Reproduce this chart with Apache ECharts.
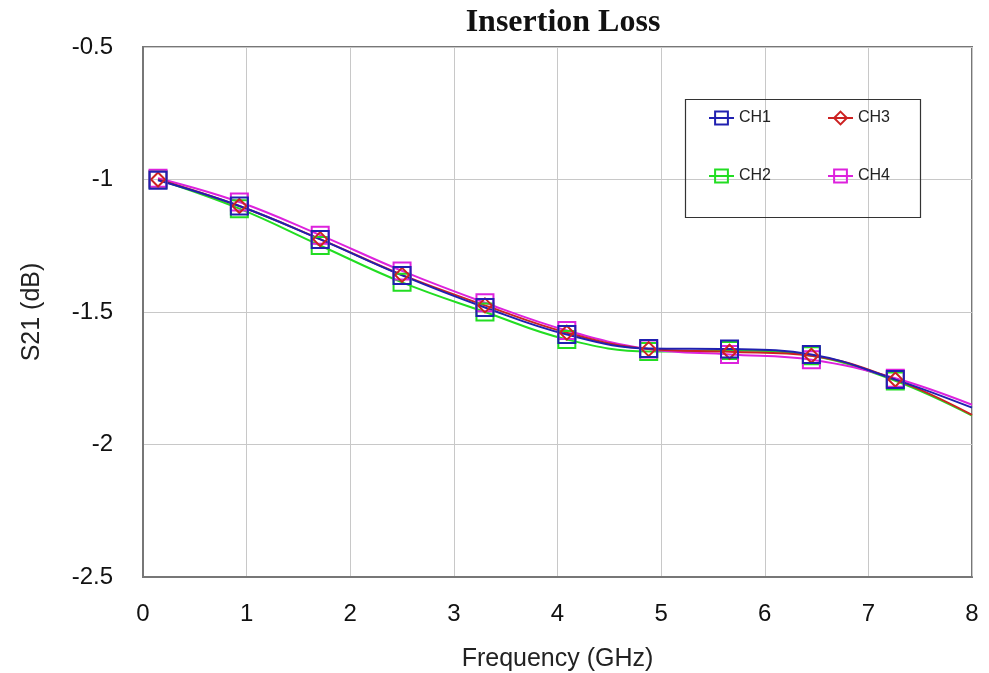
<!DOCTYPE html>
<html>
<head>
<meta charset="utf-8">
<script src="https://cdn.jsdelivr.net/npm/echarts@6/dist/echarts.min.js"></script>
<style>html,body{margin:0;padding:0;background:#fff}#c{width:989px;height:673px}</style>
</head>
<body>
<div id="c"></div>
<script>
var freqs = [0.145, 0.93, 1.71, 2.50, 3.30, 4.09, 4.88, 5.66, 6.45, 7.26, 8.0];
var ch1 = [-1.003, -1.100, -1.226, -1.362, -1.483, -1.585, -1.638, -1.640, -1.660, -1.755, -1.861];
var ch2 = [-1.000, -1.110, -1.249, -1.388, -1.500, -1.604, -1.649, -1.645, -1.665, -1.760, -1.891];
var ch3 = [-1.000, -1.100, -1.225, -1.360, -1.475, -1.578, -1.640, -1.650, -1.665, -1.755, -1.888];
var ch4 = [-0.995, -1.085, -1.210, -1.345, -1.465, -1.570, -1.640, -1.660, -1.680, -1.750, -1.850];
var xTicks = [0, 1, 2, 3, 4, 5, 6, 7, 8];
var yTicks = [-2.5, -2, -1.5, -1, -0.5];

function mk(vals) {
  return freqs.map(function (f, i) {
    var p = { value: [f, vals[i]] };
    if (i === freqs.length - 1) p.symbol = 'none';
    return p;
  });
}
function ser(name, vals, color, symbol, size) {
  return {
    name: name, type: 'line', smooth: 0.4, data: mk(vals),
    symbol: symbol, symbolSize: size, showAllSymbol: true,
    itemStyle: { color: 'rgba(255,255,255,0)', borderColor: color, borderWidth: 2 },
    lineStyle: { color: color, width: 2 },
    emphasis: { disabled: true }
  };
}
var chart = echarts.init(document.getElementById('c'));
var legendText = { fontFamily: 'Liberation Sans', fontSize: 16, color: '#222' };
chart.setOption({
  animation: false,
  title: {
    text: 'Insertion Loss', left: 558, top: 2, textAlign: 'center',
    textStyle: { fontFamily: 'Liberation Serif', fontWeight: 'bold', fontSize: 32, color: '#111' }
  },
  legend: [
    { data: ['CH1', 'CH3'], left: 703, top: 105, itemGap: 56, itemWidth: 25, itemHeight: 16, textStyle: legendText },
    { data: ['CH2', 'CH4'], left: 703, top: 163, itemGap: 56, itemWidth: 25, itemHeight: 16, textStyle: legendText }
  ],
  graphic: [{
    type: 'rect', left: 683, top: 97, z: 100, silent: true,
    shape: { width: 235, height: 118 },
    style: { fill: 'none', stroke: '#333', lineWidth: 1.2 }
  }],
  grid: { left: 143, right: 17, top: 47, bottom: 96, show: true, borderColor: '#777', borderWidth: 2, outerBoundsMode: 'none', containLabel: false },
  xAxis: {
    type: 'value', min: xTicks[0], max: xTicks[xTicks.length - 1], interval: 1,
    name: 'Frequency (GHz)', nameLocation: 'middle', nameGap: 70,
    nameTextStyle: { fontFamily: 'Liberation Sans', fontSize: 25, color: '#222' },
    axisLine: { show: true, lineStyle: { color: '#777', width: 2 } },
    axisTick: { show: false },
    axisLabel: { fontFamily: 'Liberation Sans', fontSize: 24, color: '#111', margin: 25 },
    splitLine: { show: true, lineStyle: { color: '#c8c8c8', width: 1 } }
  },
  yAxis: {
    type: 'value', min: yTicks[0], max: yTicks[yTicks.length - 1], interval: 0.5,
    name: 'S21 (dB)', nameLocation: 'middle', nameGap: 98, nameRotate: 90,
    nameTextStyle: { fontFamily: 'Liberation Sans', fontSize: 25, color: '#222' },
    axisLine: { show: true, lineStyle: { color: '#777', width: 2 } },
    axisTick: { show: false },
    axisLabel: { fontFamily: 'Liberation Sans', fontSize: 24, color: '#111', margin: 30 },
    splitLine: { show: true, lineStyle: { color: '#c8c8c8', width: 1 } }
  },
  series: [
    ser('CH2', ch2, '#22dd22', 'rect', 17),
    ser('CH4', ch4, '#dd22dd', 'rect', 17),
    ser('CH3', ch3, '#cc2222', 'diamond', 14),
    ser('CH1', ch1, '#2020b0', 'rect', 17)
  ]
});
</script>
</body>
</html>
